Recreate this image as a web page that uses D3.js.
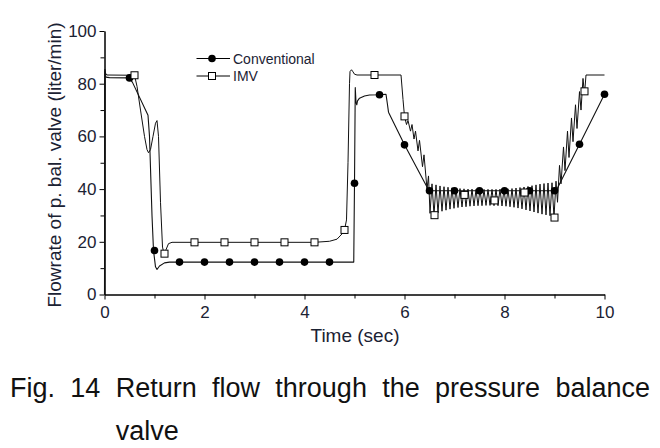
<!DOCTYPE html>
<html><head><meta charset="utf-8">
<script src="https://cdn.jsdelivr.net/npm/d3@7"></script>
<style>body{margin:0;background:#fff}svg{display:block}</style>
</head><body>
<script>
// ---- data ----
const xMajorTicks = [0, 2, 4, 6, 8, 10];
const xMinorTicks = [1, 3, 5, 7, 9];
const yMajorTicks = [0, 20, 40, 60, 80, 100];
const yMinorTicks = [10, 30, 50, 70, 90];
const legendLabels = ["Conventional", "IMV"];
const xLabel = "Time (sec)";
const yLabel = "Flowrate of p. bal. valve (liter/min)";
const captionLine1 = ["Fig.", "14", "Return", "flow", "through", "the", "pressure", "balance"];
const captionLine2 = "valve";

// Conventional (line)
const convT = [0, 0.008, 0.03, 0.1, 0.49, 0.56, 0.87, 0.9, 0.95, 0.98, 1.02, 1.05, 1.1, 1.2, 1.3, 2, 3, 4, 4.985,
  5.0, 5.015, 5.03, 5.045, 5.06, 5.1, 5.2, 5.3, 5.49, 5.63, 5.66, 5.68, 6.0, 6.49, 7, 8, 9.0, 9.05, 9.5, 10];
const convV = [0, 84.5, 82.5, 82.3, 82.2, 80.5, 68, 60, 30, 16.7, 10.5, 9.5, 10.8, 12, 12.3, 12.3, 12.3, 12.3, 12.3,
  42.2, 78.5, 73, 72, 73.5, 74.5, 75.3, 75.7, 75.8, 76, 72, 69.2, 56.8, 39.4, 39.4, 39.4, 39.4, 40, 57, 76];
// Conventional (markers)
const convMarkT = [0.5, 1.0, 1.5, 2, 2.5, 3, 3.5, 4, 4.5, 5, 5.5, 6, 6.5, 7, 7.5, 8, 8.5, 9, 9.5, 10];
const convMarkV = [82.2, 16.7, 12.3, 12.3, 12.3, 12.3, 12.3, 12.3, 12.3, 42.2, 75.8, 56.8, 39.4, 39.4, 39.4, 39.4, 39.4, 39.4, 57, 76];

// IMV (line)
const imvT = [0, 0.008, 0.02, 0.05, 0.6, 0.65, 0.72, 0.8, 0.85, 0.88, 0.92, 0.97, 1.02, 1.05, 1.08, 1.12, 1.16, 1.19, 1.23, 1.28, 1.35,
  4.2, 4.5, 4.65, 4.75, 4.8, 4.84, 4.87, 4.9, 4.91, 4.94, 4.97, 5.0, 5.05, 5.93, 5.97,
  6.0, 6.04, 6.07, 6.12, 6.15, 6.19, 6.22, 6.27, 6.30, 6.36, 6.39, 6.45, 6.48,
  6.51, 6.55, 6.59, 6.63, 6.67, 6.71, 6.75, 6.79, 6.83, 6.87, 6.91, 6.95, 6.99, 7.03, 7.07, 7.11, 7.15, 7.19, 7.23, 7.27,
  7.31, 7.35, 7.39, 7.43, 7.47, 7.51, 7.55, 7.59, 7.63, 7.67, 7.71, 7.75, 7.79, 7.83, 7.87, 7.91, 7.95, 7.99, 8.03, 8.07,
  8.11, 8.15, 8.19, 8.23, 8.27, 8.31, 8.35, 8.39, 8.43, 8.47, 8.51, 8.55, 8.59, 8.63, 8.67, 8.71, 8.75, 8.79, 8.83, 8.87,
  8.91, 8.95, 8.99, 9.03,
  9.06, 9.10, 9.13, 9.18, 9.21, 9.26, 9.29, 9.34, 9.37, 9.42, 9.45, 9.50, 9.53, 9.57, 9.60, 9.63, 10];
const imvV = [0, 85.5, 84, 83.3, 83.2, 79, 70, 60, 55, 53.8, 55, 60, 65, 66, 60, 35, 18, 15.5, 17, 19.3, 19.8,
  19.8, 20.2, 21, 23, 24.5, 28.3, 50, 80, 84.6, 85.3, 84.5, 83.6, 83.3, 83.3, 74,
  67.6, 64.5, 66, 62, 64.5, 59, 62, 54.5, 58.5, 48.5, 53, 40, 45,
  30.8, 42.0, 30.3, 41.6, 31.0, 41.2, 31.6, 40.9, 32.0, 40.7, 32.4, 40.5, 32.7, 40.3, 33.0, 40.2, 33.2, 40.1, 33.3, 40.0,
  33.5, 40.0, 33.6, 39.9, 33.7, 39.9, 33.7, 39.9, 33.8, 39.9, 33.8, 39.9, 33.7, 39.9, 33.7, 40.0, 33.6, 40.0, 33.5, 40.1,
  33.3, 40.2, 33.1, 40.4, 32.8, 40.6, 32.5, 40.8, 32.1, 41.0, 31.7, 41.3, 31.3, 41.6, 30.9, 41.9, 30.5, 42.1, 30.2, 42.3,
  29.9, 42.4, 29.3, 43,
  35, 49, 42, 56, 47, 62, 52, 67, 58, 72, 63, 77, 70, 82, 76, 83.3, 83.3];
// IMV (markers)
const imvMarkT = [0.6, 1.2, 1.8, 2.4, 3.0, 3.6, 4.2, 4.8, 5.4, 6.0, 6.6, 7.2, 7.8, 8.4, 9.0, 9.6];
const imvMarkV = [83.2, 15.5, 19.8, 19.8, 19.8, 19.8, 19.8, 24.5, 83.3, 67.6, 30.1, 37.8, 35.7, 38.7, 29.2, 77.1];

// ---- drawing ----
const W = 660, H = 448;
const svg = d3.select("body").append("svg").attr("width", W).attr("height", H)
  .style("font-family", "'Liberation Sans', Arial, sans-serif");

const x = d3.scaleLinear().domain([0, 10]).range([104.5, 604.5]);
const y = d3.scaleLinear().domain([0, 100]).range([294.5, 31]);
const textCol = "#1b2233";

// axes
function styleAxis(g) {
  g.select(".domain").attr("stroke", "#000").attr("stroke-width", 1);
  g.selectAll(".tick line").attr("stroke", "#000").attr("stroke-width", 1);
  g.selectAll(".tick text").attr("fill", textCol).style("font-size", "17px")
    .style("font-family", "'Liberation Sans', Arial, sans-serif");
}
svg.append("g").attr("transform", `translate(0,${y(0)})`)
  .call(d3.axisBottom(x).tickValues(xMinorTicks).tickSize(4).tickSizeOuter(0).tickFormat(""))
  .call(styleAxis);
svg.append("g").attr("transform", `translate(0,${y(0)})`)
  .call(d3.axisBottom(x).tickValues(xMajorTicks).tickSize(5).tickSizeOuter(0).tickPadding(6).tickFormat(d3.format("d")))
  .call(styleAxis);
svg.append("g").attr("transform", `translate(${x(0)},0)`)
  .call(d3.axisLeft(y).tickValues(yMinorTicks).tickSize(4).tickSizeOuter(0).tickFormat(""))
  .call(styleAxis);
svg.append("g").attr("transform", `translate(${x(0)},0)`)
  .call(d3.axisLeft(y).tickValues(yMajorTicks).tickSize(5).tickSizeOuter(0).tickPadding(3).tickFormat(d3.format("d")))
  .call(styleAxis);

// axis labels
svg.append("text").attr("x", 355).attr("y", 342).attr("text-anchor", "middle")
  .attr("fill", textCol).style("font-size", "19px").text(xLabel);
svg.append("text").attr("transform", "translate(61,165) rotate(-90)").attr("text-anchor", "middle")
  .attr("fill", textCol).style("font-size", "19px").text(yLabel);

// lines
const line = d3.line().x(d => x(d[0])).y(d => y(d[1]));
const convPts = convT.map((t, i) => [t, convV[i]]);
const imvPts = imvT.map((t, i) => [t, imvV[i]]);
svg.append("path").datum(imvPts).attr("d", line).attr("fill", "none")
  .attr("stroke", "#111").attr("stroke-width", 1).attr("stroke-linejoin", "round");
svg.append("path").datum(convPts).attr("d", line).attr("fill", "none")
  .attr("stroke", "#111").attr("stroke-width", 1.1).attr("stroke-linejoin", "round");

// markers
const convM = convMarkT.map((t, i) => [t, convMarkV[i]]);
const imvM = imvMarkT.map((t, i) => [t, imvMarkV[i]]);
svg.append("g").selectAll("circle").data(convM).join("circle")
  .attr("cx", d => x(d[0])).attr("cy", d => y(d[1])).attr("r", 3.8).attr("fill", "#000");
svg.append("g").selectAll("rect").data(imvM).join("rect")
  .attr("x", d => x(d[0]) - 3.5).attr("y", d => y(d[1]) - 3.5).attr("width", 7).attr("height", 7)
  .attr("fill", "#fff").attr("stroke", "#000").attr("stroke-width", 1);

// legend
const leg = svg.append("g");
legendLabels.forEach((lab, i) => {
  const ly = 58.5 + i * 17.5;
  leg.append("line").attr("x1", 196.5).attr("x2", 230).attr("y1", ly).attr("y2", ly)
    .attr("stroke", "#000").attr("stroke-width", 1);
  if (i === 0) leg.append("circle").attr("cx", 212).attr("cy", ly).attr("r", 3.8).attr("fill", "#000");
  else leg.append("rect").attr("x", 208.5).attr("y", ly - 3.5).attr("width", 7).attr("height", 7)
    .attr("fill", "#fff").attr("stroke", "#000");
  leg.append("text").attr("x", 233).attr("y", ly + 5).attr("fill", textCol)
    .style("font-size", "14px").text(lab);
});

// caption (justified)
const capFont = "27px";
const cap = svg.append("g").style("font-size", capFont).attr("fill", "#111");
const words = cap.selectAll("text.w").data(captionLine1).join("text").attr("class", "w")
  .attr("y", 397).text(d => d);
const widths = words.nodes().map(n => n.getComputedTextLength());
const total = d3.sum(widths);
const left = 10, right = 650;
const gap = (right - left - total) / (captionLine1.length - 1);
let cx = left;
const xs = [];
widths.forEach(w => { xs.push(cx); cx += w + gap; });
words.attr("x", (d, i) => xs[i]);
cap.append("text").attr("x", xs[2]).attr("y", 440).text(captionLine2);
</script>
</body></html>
